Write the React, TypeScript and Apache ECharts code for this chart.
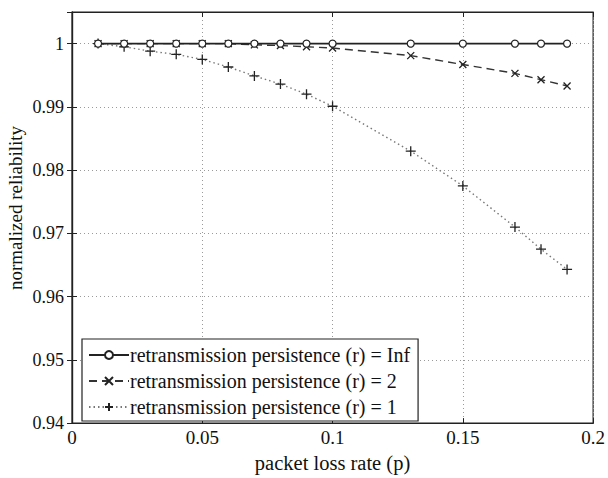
import React, { useEffect, useRef } from "react";
import * as echarts from "echarts";

const lossRates = [0.01, 0.02, 0.03, 0.04, 0.05, 0.06, 0.07, 0.08, 0.09, 0.1, 0.13, 0.15, 0.17, 0.18, 0.19];
const reliabilityInf = [1, 1, 1, 1, 1, 1, 1, 1, 1, 1, 1, 1, 1, 1, 1];
const reliabilityR2 = [1, 1, 1, 1, 1, 1, 0.9998, 0.9997, 0.9995, 0.9993, 0.9981, 0.9967, 0.9953, 0.9943, 0.9933];
const reliabilityR1 = [1, 0.9995, 0.9988, 0.9983, 0.9975, 0.9963, 0.9949, 0.9936, 0.992, 0.9901, 0.983, 0.9775, 0.971, 0.9675, 0.9643];
const seriesNames = [
  "retransmission persistence (r) = Inf",
  "retransmission persistence (r) = 2",
  "retransmission persistence (r) = 1",
];
const xTickLabels = ["0", "0.05", "0.1", "0.15", "0.2"];
const yTickLabels = ["0.94", "0.95", "0.96", "0.97", "0.98", "0.99", "1"];
const xAxisName = "packet loss rate (p)";
const yAxisName = "normalized reliability";

const FONT = "'Liberation Serif', 'Times New Roman', serif";
const X_SYMBOL = "path://M0,0L10,10M10,0L0,10";
const PLUS_SYMBOL = "path://M5,0L5,10M0,5L10,5";

function pair(ys: number[]) {
  return lossRates.map((x, i) => [x, ys[i]]);
}

function fmtX(v: number) {
  const s = String(Math.round(v * 100) / 100);
  return xTickLabels.includes(s) ? s : "";
}
function fmtY(v: number) {
  const s = String(Math.round(v * 100) / 100);
  return yTickLabels.includes(s) && Math.abs(v * 100 - Math.round(v * 100)) < 1e-6 ? s : "";
}

export default function App() {
  const ref = useRef<HTMLDivElement>(null);
  useEffect(() => {
    if (!ref.current) return;
    const chart = echarts.init(ref.current, undefined, { renderer: "svg" });
    const gridLine = { show: true, lineStyle: { color: "#9a9a9a", type: [1, 3] as any, width: 1 } };
    chart.setOption({
      animation: false,
      backgroundColor: "#fff",
      textStyle: { fontFamily: FONT },
      grid: { left: 72, right: 13, top: 12, bottom: 48, show: true, borderColor: "#222", borderWidth: 1.2 },
      graphic: [
        {
          type: "text",
          x: 15,
          y: 208,
          rotation: Math.PI / 2,
          style: {
            text: yAxisName,
            fontFamily: FONT,
            fontSize: 19,
            fill: "#111",
            textAlign: "center",
            textVerticalAlign: "middle",
          },
        },
      ],
      legend: {
        left: 82,
        top: 339,
        orient: "vertical",
        backgroundColor: "#fff",
        borderColor: "#222",
        borderWidth: 1.2,
        padding: [5, 8, 3, 6],
        itemGap: 4,
        itemWidth: 40,
        itemHeight: 10,
        textStyle: { fontFamily: FONT, fontSize: 20, lineHeight: 22, color: "#111", padding: [0, 0, 0, -4] },
        data: seriesNames,
      },
      xAxis: [
        {
          type: "value",
          min: 0,
          max: 0.2,
          interval: 0.05,
          name: xAxisName,
          nameLocation: "middle",
          nameGap: 24,
          nameTextStyle: { fontFamily: FONT, fontSize: 20.5, color: "#111" },
          axisLine: { lineStyle: { color: "#222", width: 1.2 } },
          axisTick: { inside: true, length: 5, lineStyle: { color: "#222" } },
          axisLabel: { fontFamily: FONT, fontSize: 19, color: "#111", margin: 5, formatter: fmtX },
          splitLine: gridLine,
        },
        {
          type: "value",
          position: "top",
          min: 0,
          max: 0.2,
          interval: 0.05,
          axisLine: { lineStyle: { color: "#222", width: 1.2 } },
          axisTick: { inside: true, length: 5, lineStyle: { color: "#222" } },
          axisLabel: { show: false },
          splitLine: { show: false },
        },
      ],
      yAxis: [
        {
          type: "value",
          min: 0.94,
          max: 1.005,
          interval: 0.01,
          axisLine: { show: true, lineStyle: { color: "#222", width: 1.2 } },
          axisTick: { show: true, inside: true, length: 5, lineStyle: { color: "#222" } },
          axisLabel: { fontFamily: FONT, fontSize: 18, color: "#111", margin: 8, formatter: fmtY, showMaxLabel: false },
          splitLine: gridLine,
        },
        {
          type: "value",
          position: "right",
          min: 0.94,
          max: 1.005,
          interval: 0.01,
          axisLine: { show: true, lineStyle: { color: "#222", width: 1.2 } },
          axisTick: { show: true, inside: true, length: 5, lineStyle: { color: "#222" } },
          axisLabel: { show: false },
          splitLine: { show: false },
        },
      ],
      series: [
        {
          name: seriesNames[0],
          type: "line",
          data: pair(reliabilityInf),
          symbol: "circle",
          symbolSize: 7,
          itemStyle: { color: "#fff", borderColor: "#222", borderWidth: 1.2 },
          lineStyle: { color: "#222", width: 1.6, type: "solid" },
          z: 4,
        },
        {
          name: seriesNames[1],
          type: "line",
          data: pair(reliabilityR2),
          symbol: X_SYMBOL,
          symbolSize: 7,
          itemStyle: { color: "none", borderColor: "#222", borderWidth: 1.3 },
          lineStyle: { color: "#333", width: 1.4, type: [8, 5] as any },
          z: 3,
        },
        {
          name: seriesNames[2],
          type: "line",
          data: pair(reliabilityR1),
          symbol: PLUS_SYMBOL,
          symbolSize: 10,
          itemStyle: { color: "none", borderColor: "#222", borderWidth: 1.3 },
          lineStyle: { color: "#777", width: 1.4, type: [1.5, 3] as any },
          z: 2,
        },
      ],
    });
    return () => chart.dispose();
  }, []);
  return <div ref={ref} style={{ width: 608, height: 478, position: "absolute", left: 0, top: 0 }} />;
}
